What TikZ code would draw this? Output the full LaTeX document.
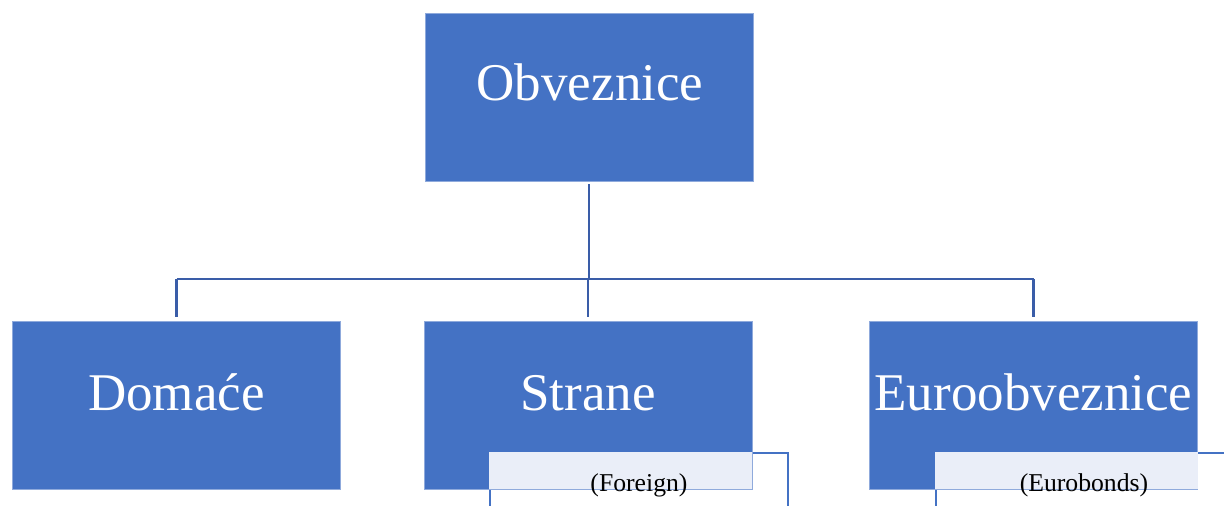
\documentclass[tikz,border=0pt]{standalone}
\usepackage{fontspec}
\setmainfont{Liberation Serif}
\definecolor{boxblue}{HTML}{4472C4}
\definecolor{lineblue}{HTML}{3A5DA8}
\definecolor{subfill}{HTML}{EAEEF8}
\begin{document}
\begin{tikzpicture}[x=1pt,y=-1pt,
  mainbox/.style={rectangle,fill=boxblue,draw=boxblue!60!white,line width=0.6pt,minimum width=328pt,minimum height=168pt,inner sep=0pt},
  maintext/.style={anchor=base,text=white,font=\fontsize{53}{60}\selectfont,inner sep=0pt},
  subbox/.style={rectangle,fill=white,draw=boxblue,line width=2pt,minimum width=298pt,minimum height=110pt,inner sep=0pt},
  subtext/.style={anchor=base,text=black,font=\fontsize{25.7}{30}\selectfont,inner sep=0pt},
  conn/.style={draw=lineblue,line width=2.8pt}]
\clip (0,0) rectangle (1224,506);
\fill[white] (0,0) rectangle (1224,506);
% sub-boxes underneath
\node[subbox] (subF) at (639,508) {};
\node[subbox] (subE) at (1084.5,508) {};
% main boxes
\node[mainbox] (top) at (589,97) {};
\node[mainbox] (dom) at (176.5,405) {};
\node[mainbox] (str) at (588,405) {};
\node[mainbox] (eur) at (1033.5,405) {};
% light overlays where the sub-boxes overlap
\fill[subfill] (subF.north west) rectangle (str.south east);
\fill[subfill] (subE.north west) rectangle (eur.south east);
% texts
\node[maintext] (topt) at (590,100) {Obveznice};
\node[maintext] (domt) at (176.5,410) {Domaće};
\node[maintext] (strt) at (588,410) {Strane};
\node[maintext] (eurt) at (1033.5,410) {Euroobveznice};
\node[subtext] (subFt) at (639,491) {(Foreign)};
\node[subtext] (subEt) at (1084,491) {(Eurobonds)};
% connectors
\coordinate (bus) at (589,279);
\draw[conn] ([yshift=-3pt]top.south) -- (top.south |- bus);
\draw[conn] (dom.north |- bus) -- (eur.north |- bus);
\draw[conn,shorten >=4pt] (dom.north |- bus) -- (dom.north);
\draw[conn,shorten >=4pt] (str.north |- bus) -- (str.north);
\draw[conn,shorten >=4pt] (eur.north |- bus) -- (eur.north);
\end{tikzpicture}
\end{document}
